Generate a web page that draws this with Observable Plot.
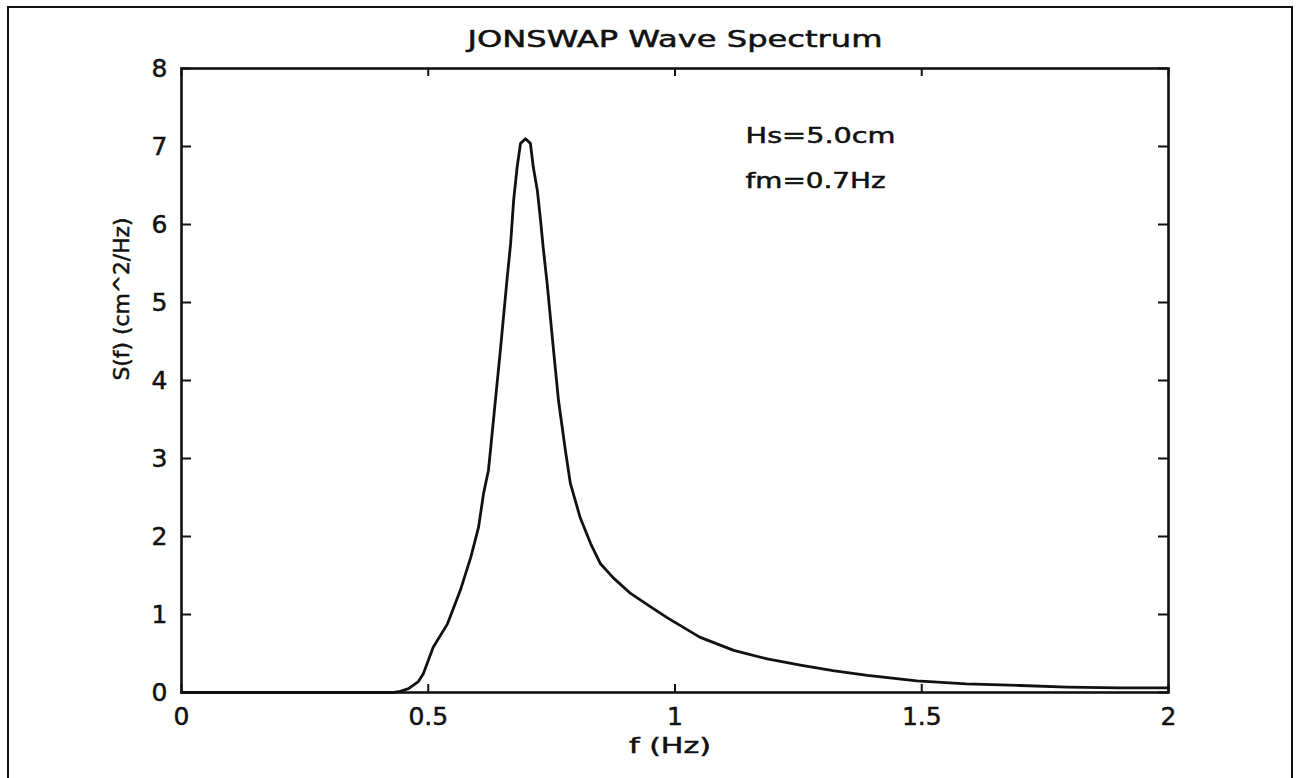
<!DOCTYPE html>
<html>
<head>
<meta charset="utf-8">
<script src="https://cdn.jsdelivr.net/npm/d3@7"></script>
<script src="https://cdn.jsdelivr.net/npm/@observablehq/plot@0.6"></script>
<style>
  html, body { margin: 0; padding: 0; background: #fff; overflow: hidden; }
  #wrap { position: relative; width: 1300px; height: 778px; }
  #border { position: absolute; left: 7px; top: 6px; width: 1286px; height: 800px; border: 2.5px solid #111; box-sizing: border-box; }
  #chart { position: absolute; left: 0; top: 0; }
  #chart text { stroke: #111; stroke-width: 0.5px; }
</style>
</head>
<body>
<div id="wrap"><div id="border"></div><div id="chart"></div></div>
<script>
// Frequency (Hz)
const freq = [0, 0.40, 0.43, 0.44, 0.46, 0.48, 0.49, 0.51, 0.539, 0.565, 0.586, 0.602, 0.612, 0.622, 0.626,
  0.646, 0.66, 0.667, 0.673, 0.68, 0.687, 0.697, 0.707, 0.713, 0.721, 0.727, 0.733, 0.741, 0.754, 0.764,
  0.778, 0.788, 0.808, 0.829, 0.849, 0.875, 0.91, 0.95, 0.984, 1.05, 1.119, 1.187, 1.254, 1.32, 1.39,
  1.49, 1.59, 1.70, 1.795, 1.90, 2.0];
// Spectral density S(f) (cm^2/Hz)
const spec = [0, 0, 0, 0.01, 0.05, 0.14, 0.24, 0.58, 0.88, 1.31, 1.73, 2.12, 2.55, 2.85, 3.10,
  4.38, 5.32, 5.76, 6.31, 6.73, 7.04, 7.10, 7.04, 6.73, 6.44, 6.09, 5.70, 5.24, 4.38, 3.74,
  3.10, 2.68, 2.24, 1.91, 1.65, 1.47, 1.27, 1.10, 0.96, 0.71, 0.54, 0.43, 0.35, 0.28, 0.22,
  0.15, 0.11, 0.09, 0.07, 0.06, 0.06];
const xTicks = [0, 0.5, 1, 1.5, 2];
const yTicks = [0, 1, 2, 3, 4, 5, 6, 7, 8];
const titleText = "JONSWAP Wave Spectrum";
const xLabel = "f (Hz)";
const yLabel = "S(f) (cm^2/Hz)";
const notes = ["Hs=5.0cm", "fm=0.7Hz"];
const noteX = [1.143, 1.143];
const noteY = [7.13, 6.55];

const data = freq.map((f, i) => ({f, s: spec[i]}));
const noteData = notes.map((t, i) => ({t, x: noteX[i], y: noteY[i]}));
const ink = "#111";
const font = "DejaVu Sans";

const W = 1300, H = 778, mL = 181, mR = 132, mT = 68, mB = 86;
const frameW = W - mL - mR, frameH = H - mT - mB;
const xTickLen = 8, yTickLen = 10;

const plot = Plot.plot({
  width: W,
  height: H,
  marginLeft: mL,
  marginRight: mR,
  marginTop: mT,
  marginBottom: mB,
  x: {domain: [0, 2]},
  y: {domain: [0, 8]},
  style: {fontFamily: font, fontSize: "25px", color: ink, background: "transparent"},
  marks: [
    // inward ticks on all four sides
    Plot.ruleX(xTicks, {x: d => d, insetTop: frameH - xTickLen, stroke: ink, strokeWidth: 2}),
    Plot.ruleX(xTicks, {x: d => d, insetBottom: frameH - xTickLen, stroke: ink, strokeWidth: 2}),
    Plot.ruleY(yTicks, {y: d => d, insetRight: frameW - yTickLen, stroke: ink, strokeWidth: 2}),
    Plot.ruleY(yTicks, {y: d => d, insetLeft: frameW - yTickLen, stroke: ink, strokeWidth: 2}),
    // tick labels
    Plot.axisX(xTicks, {anchor: "bottom", tickSize: 0, tickPadding: 15, tickFormat: d => String(d), label: null, fontSize: 25}),
    Plot.axisY(yTicks, {anchor: "left", tickSize: 0, tickPadding: 14, tickFormat: d => String(d), label: null, fontSize: 25}),
    Plot.line(data, {x: "f", y: "s", stroke: ink, strokeWidth: 2.8}),
    Plot.frame({stroke: ink, strokeWidth: 2.6}),
    Plot.text(noteData, {x: "x", y: "y", text: "t", textAnchor: "start", fontSize: 21, fill: ink}),
    Plot.text([titleText], {frameAnchor: "top", dy: -38, fontSize: 23, fill: ink}),
    Plot.text([xLabel], {frameAnchor: "bottom", dy: 60, dx: -5, fontSize: 21, fill: ink}),
    Plot.text([yLabel], {frameAnchor: "left", dx: -59, rotate: -90, fontSize: 21, fill: ink})
  ]
});
document.getElementById("chart").appendChild(plot);

// stretch the text to the broad face of the reference
const widths = new Map([[titleText, 415], [xLabel, 82], [yLabel, 163], [notes[0], 150], [notes[1], 140]]);
d3.select(plot).selectAll("text").each(function() {
  const t = this.textContent;
  if (widths.has(t)) {
    this.setAttribute("textLength", widths.get(t));
    this.setAttribute("lengthAdjust", "spacingAndGlyphs");
  }
});
</script>
</body>
</html>
